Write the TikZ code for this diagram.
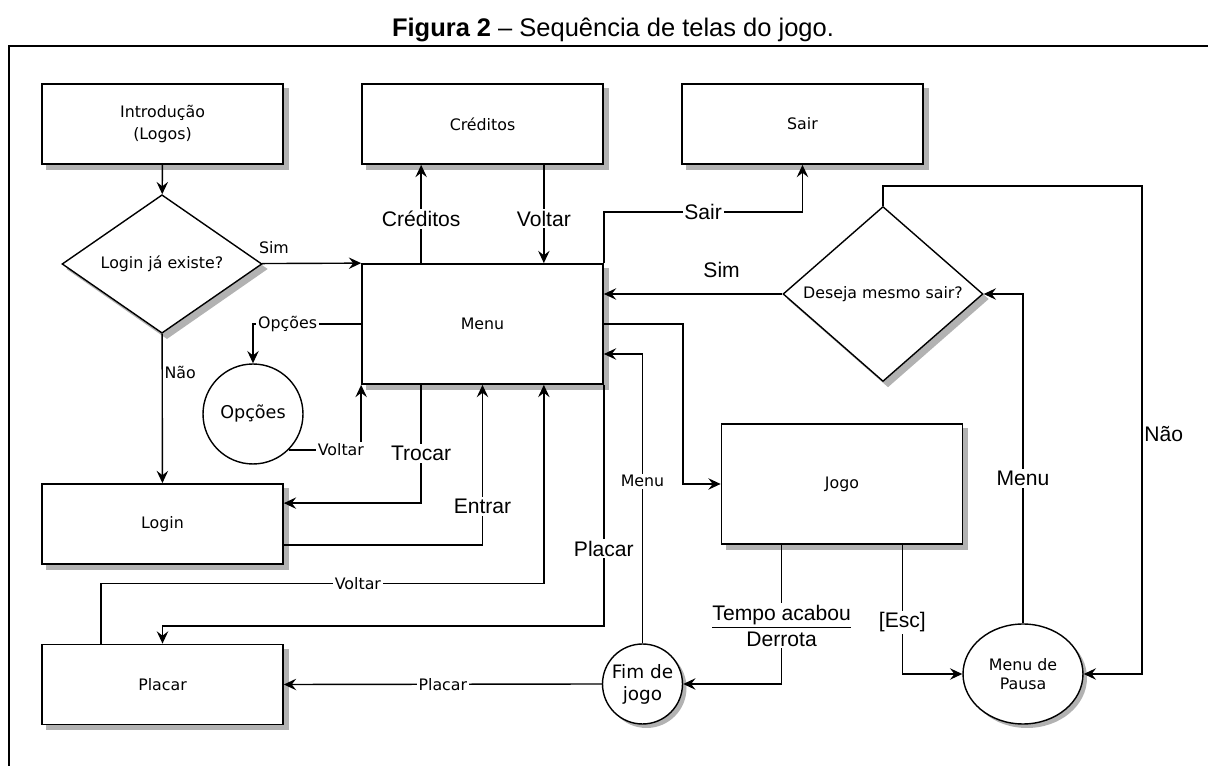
\documentclass[tikz,border=0pt]{standalone}
\usepackage{fontspec}
\setmainfont{Liberation Sans}
\newfontfamily\telafont{DejaVu Sans}
\usetikzlibrary{shapes.geometric, arrows.meta, positioning, calc, backgrounds}
\tikzset{
  telashade/.style={fill=black!30, draw=none},
  telabox/.style={rectangle, draw=black, line width=1pt, fill=white,
                  minimum width=4.82cm, minimum height=1.6cm, align=center,
                  font=\telafont\fontsize{9}{12}\selectfont},
  telabig/.style={telabox, minimum height=2.4cm},
  teladec/.style={diamond, draw=black, line width=0.8pt, fill=white, inner sep=0pt,
                  minimum width=4cm, minimum height=2.4cm,
                  font=\telafont\fontsize{9}{12}\selectfont},
  telacirc/.style={circle, draw=black, line width=0.8pt, fill=white, inner sep=0pt,
                   align=center, font=\telafont\fontsize{10}{12}\selectfont},
  telaarrow/.style={-{Stealth[length=7pt, width=6.5pt, inset=2.5pt]}, line width=0.8pt},
  smalllbl/.style={fill=white, inner sep=1pt, font=\telafont\fontsize{9}{11}\selectfont},
  biglbl/.style={fill=white, inner sep=1pt, align=center, font=\fontsize{12}{14.8}\selectfont},
}

\begin{document}
\begin{tikzpicture}[x=0.02cm, y=-0.02cm]
  \useasboundingbox (0,0) rectangle (1208,766);
  % titulo e moldura
  \node[font=\fontsize{14.5}{17}\selectfont] (titulo) at (613,30)
    {\textbf{Figura 2} – Sequência de telas do jogo.};
  \draw[line width=1.1pt] (9,766) -- (9,46) -- (1208,46);

  % telas
  \node[telabox] (intro) at (162.5,124) {Introdução\\(Logos)};
  \node[telabox] (creditos) at (482.5,124) {Créditos};
  \node[telabox] (sair) at (802.5,124) {Sair};
  \node[teladec] (existe) at (162,264) {Login já existe?};
  \node[telabig] (menu) at (482.5,324) {Menu};
  \node[teladec, minimum height=2.8cm] (deseja) at (883,294) {Deseja mesmo sair?};
  \node[telacirc, minimum size=2cm] (opcoes) at (253,414) {Opções};
  \node[telabig] (jogo) at (842,484) {Jogo};
  \node[telabox] (login) at (162.5,524) {Login};
  \node[telabox] (placar) at (162.5,684.5) {Placar};
  \node[telacirc, minimum size=1.6cm,
        font=\telafont\fontsize{10.5}{12.5}\selectfont] (fim) at (642.5,684) {Fim de\\jogo};
  \node[ellipse, draw=black, line width=0.8pt, fill=white, inner sep=0pt, align=center,
        minimum width=2.4cm, minimum height=2cm,
        font=\telafont\fontsize{9}{11}\selectfont] (pausa) at (1023,674) {Menu de\\Pausa};

  % sombras
  \begin{scope}[on background layer]
    \foreach \n in {intro, creditos, sair, menu, jogo, login, placar}
      \fill[telashade] ($(\n.south west)+(5,5)$) rectangle ($(\n.north east)+(5,5)$);
    \foreach \n in {existe, deseja}
      \fill[telashade] ($(\n.north)+(5,5)$) -- ($(\n.east)+(5,5)$)
        -- ($(\n.south)+(5,5)$) -- ($(\n.west)+(5,5)$) -- cycle;
    \fill[telashade] ($(fim.center)+(4,4)$) circle[radius=40];
    \fill[telashade] ($(pausa.center)+(4,4)$) ellipse[x radius=60, y radius=50];
  \end{scope}

  % transicoes
  \draw[telaarrow] (intro) -- (existe);
  \draw[telaarrow] (existe) -- node[smalllbl, fill=none, above=4pt, pos=0.12] {Sim} (menu.north west);
  \draw[telaarrow] (existe) -- node[smalllbl, fill=none, right, pos=0.26] {Não} (login);
  \draw[telaarrow] ($(menu.north west)+(60,0)$) -- node[biglbl, pos=0.45] {Créditos}
    ($(creditos.south west)+(60,0)$);
  \draw[telaarrow] ($(creditos.south east)+(-60,0)$) -- node[biglbl, pos=0.55] {Voltar}
    ($(menu.north east)+(-60,0)$);
  \draw[telaarrow] (menu.north east) -- ++(0,-51) -| node[biglbl, pos=0.25] {Sair} (sair.south);
  \draw[telaarrow] (deseja.west) -- node[biglbl, fill=none, above=8pt, pos=0.34] {Sim}
    (deseja.west -| menu.east);
  \draw[telaarrow] (menu.east) -- ++(79,0) |- (jogo.west);
  \draw[telaarrow] (fim.north) |- node[smalllbl, pos=0.28] {Menu} ($(menu.east)+(0,30)$);
  \draw[telaarrow] (menu.west) -| node[smalllbl, pos=0.34] {Opções} (opcoes.north);
  \draw[telaarrow] (opcoes.-45) -| node[smalllbl, pos=0.36] {Voltar} (menu.south west);
  \draw[telaarrow] ($(menu.south west)+(60,0)$) |- node[biglbl, pos=0.29] {Trocar}
    ($(login.north east)+(0,20)$);
  \draw[telaarrow] ($(login.south east)+(0,-20)$) -| node[biglbl, pos=0.62] {Entrar} (menu.south);
  \draw[telaarrow] ($(placar.north west)+(60,0)$) -- ++(0,-60)
    -| node[smalllbl, pos=0.29] {Voltar} ($(menu.south east)+(-60,0)$);
  \draw[telaarrow] (menu.south east) -- node[biglbl, pos=0.68] {Placar} ++(0,241) -| (placar.north);
  \draw[telaarrow] (fim.west) -- node[smalllbl, pos=0.5] {Placar} (placar.east);
  \draw[telaarrow] ($(jogo.south west)+(61,0)$) |- node[biglbl, pos=0.29]
    {\underline{Tempo acabou}\\Derrota} (fim.east);
  \draw[telaarrow] ($(jogo.south east)+(-61,0)$) |- node[biglbl, pos=0.3] {[Esc]} (pausa.west);
  \draw[telaarrow] (pausa.north) |- node[biglbl, pos=0.22] {Menu} (deseja.east);
  \draw[telaarrow] (deseja.north) -- ++(0,-20) -- ++(259,0)
    |- node[biglbl, fill=none, right, pos=0.254] {Não} (pausa.east);
\end{tikzpicture}
\end{document}
